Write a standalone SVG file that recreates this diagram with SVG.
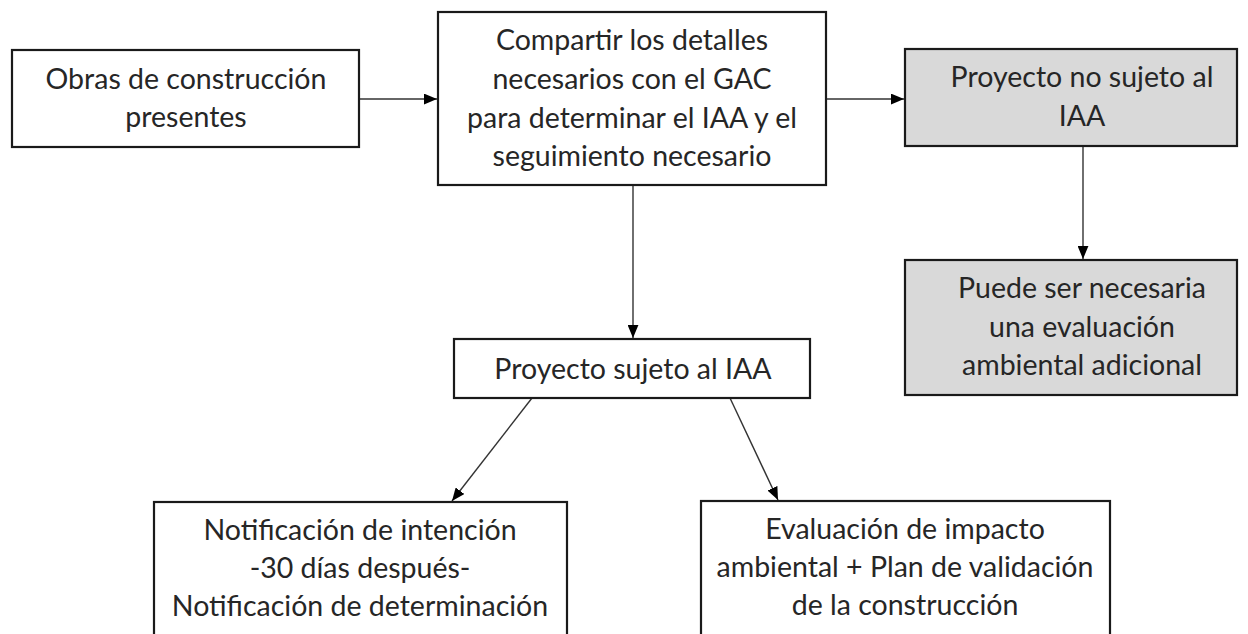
<svg xmlns="http://www.w3.org/2000/svg" width="1248" height="634" viewBox="0 0 1248 634">
<style>
.box{fill:#ffffff;stroke:#1a1a1a;stroke-width:2.2}
.grey{fill:#d9d9d9}
.t{font-family:Lato,"Liberation Sans",sans-serif;font-size:28.5px;fill:#262626;text-anchor:middle}
.c{stroke:#333333;stroke-width:1.4;fill:none;marker-end:url(#ah)}
</style>
<defs>
<marker id="ah" viewBox="0 0 12 10" refX="12" refY="5" markerWidth="13" markerHeight="11" markerUnits="userSpaceOnUse" orient="auto">
<path d="M0,0 L12,5 L0,10 Z" fill="#000"/>
</marker>
</defs>
<rect width="1248" height="634" fill="#ffffff"/>
<g id="connectors">
<line class="c" x1="359" y1="99" x2="437" y2="99"/>
<line class="c" x1="826" y1="99" x2="904" y2="99"/>
<line class="c" x1="1083" y1="146" x2="1083" y2="259"/>
<line class="c" x1="633" y1="185" x2="633" y2="338"/>
<line class="c" x1="532" y1="398" x2="452" y2="501"/>
<line class="c" x1="730" y1="398" x2="778" y2="500"/>
</g>
<g id="n1">
<rect class="box" x="12" y="50" width="347" height="97"/>
<text class="t" x="186" y="89">Obras de construcción</text>
<text class="t" x="186" y="127">presentes</text>
</g>
<g id="n2">
<rect class="box" x="438" y="12" width="388" height="173"/>
<text class="t" x="632" y="50">Compartir los detalles</text>
<text class="t" x="632" y="89">necesarios con el GAC</text>
<text class="t" x="632" y="128">para determinar el IAA y el</text>
<text class="t" x="632" y="166">seguimiento necesario</text>
</g>
<g id="n3">
<rect class="box grey" x="905" y="49" width="332" height="97"/>
<text class="t" x="1082" y="87">Proyecto no sujeto al</text>
<text class="t" x="1082" y="126">IAA</text>
</g>
<g id="n4">
<rect class="box grey" x="905" y="260" width="332" height="135"/>
<text class="t" x="1082" y="298">Puede ser necesaria</text>
<text class="t" x="1082" y="337">una evaluación</text>
<text class="t" x="1082" y="375">ambiental adicional</text>
</g>
<g id="n5">
<rect class="box" x="454" y="339" width="356" height="59"/>
<text class="t" x="633" y="379">Proyecto sujeto al IAA</text>
</g>
<g id="n6">
<rect class="box" x="154" y="502" width="413" height="150"/>
<text class="t" x="360" y="540">Notificación de intención</text>
<text class="t" x="360" y="578">-30 días después-</text>
<text class="t" x="360" y="616">Notificación de determinación</text>
</g>
<g id="n7">
<rect class="box" x="701" y="501" width="409" height="150"/>
<text class="t" x="905" y="539">Evaluación de impacto</text>
<text class="t" x="905" y="577">ambiental + Plan de validación</text>
<text class="t" x="905" y="615">de la construcción</text>
</g>
</svg>
